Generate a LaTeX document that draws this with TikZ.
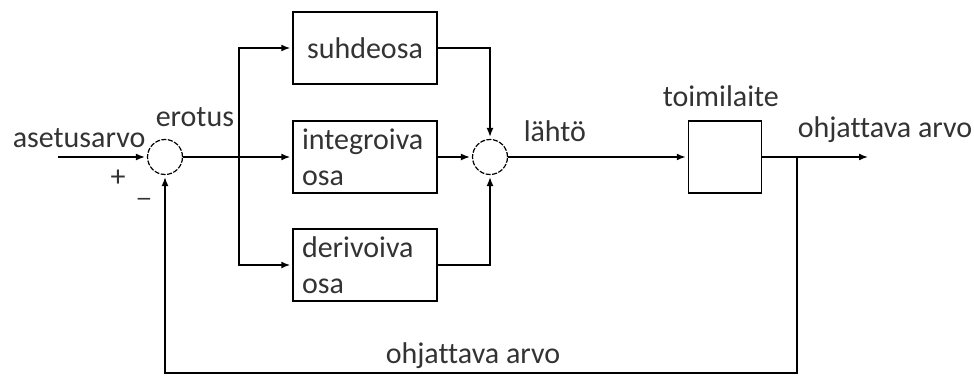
\documentclass[tikz,border=0pt]{standalone}
\usepackage{fontspec}
\setmainfont[Ligatures=NoCommon]{Carlito}
\newfontfamily\dvsans{DejaVu Sans}
\usetikzlibrary{arrows.meta}
\begin{document}
\begin{tikzpicture}[x=1pt,y=-1pt,
  line width=1.5pt,
  every node/.style={font=\fontsize{30}{36}\selectfont, text=black!80},
  blk/.style={draw, line width=1.5pt, rectangle, inner sep=0pt, minimum width=144pt, minimum height=72pt, align=left},
  sumc/.style={draw, circle, line width=1.2pt, dash pattern=on 5pt off 1.5pt, inner sep=0pt, minimum size=35pt},
  arr/.style={-{Latex[length=9pt,width=7pt]}, shorten >=2pt},
  lbl/.style={anchor=base west, inner sep=0pt}
]
\useasboundingbox (0,0) rectangle (974,379);
% nodes
\node[sumc] (s1) at (165,157) {};
\node[sumc] (s2) at (490,157) {};
\node[blk] (P) at (365,48) {suhdeosa};
\node[blk, text width=126pt] (I) at (365,157) {integroiva\\osa};
\node[blk, text width=126pt] (D) at (365,265) {derivoiva\\osa};
\node[blk, minimum width=73pt, minimum height=72pt] (T) at (725,157) {};
\coordinate (in) at (58,157);
\coordinate (out) at (870,157);
\coordinate (br) at (239,157);
\coordinate (fb) at (797,157);
\coordinate (fbb) at (797,373);
\coordinate (fbl) at (165,373);
% connectors
\draw[arr] (in) -- (s1);
\draw (s1) -- (br);
\draw[arr] (br) |- (P.west);
\draw[arr] (br) -- (I.west);
\draw[arr] (br) |- (D.west);
\draw[arr] (P.east) -| (s2.north);
\draw[arr] (I.east) -- (s2.west);
\draw[arr] (D.east) -| (s2.south);
\draw[arr] (s2) -- (T.west);
\draw[arr] (T.east) -- (out);
\draw[arr] (fb) -- (fbb) -- (fbl) -- (s1.south);
% labels
\node[lbl] (la) at (12,148) {asetusarvo};
\node[lbl] (le) at (155,127) {erotus};
\node[lbl] (ll) at (523,142) {lähtö};
\node[lbl] (lt) at (662,107) {toimilaite};
\node[lbl] (lo) at (797,138) {ohjattava arvo};
\node[lbl, anchor=base] (lb) at (473,363) {ohjattava arvo};
\node[inner sep=0pt] (plus) at (118,178) {+};
\node[lbl, anchor=base, font=\dvsans\fontsize{20}{20}\selectfont] (minus) at (144,206) {−};
\end{tikzpicture}
\end{document}
